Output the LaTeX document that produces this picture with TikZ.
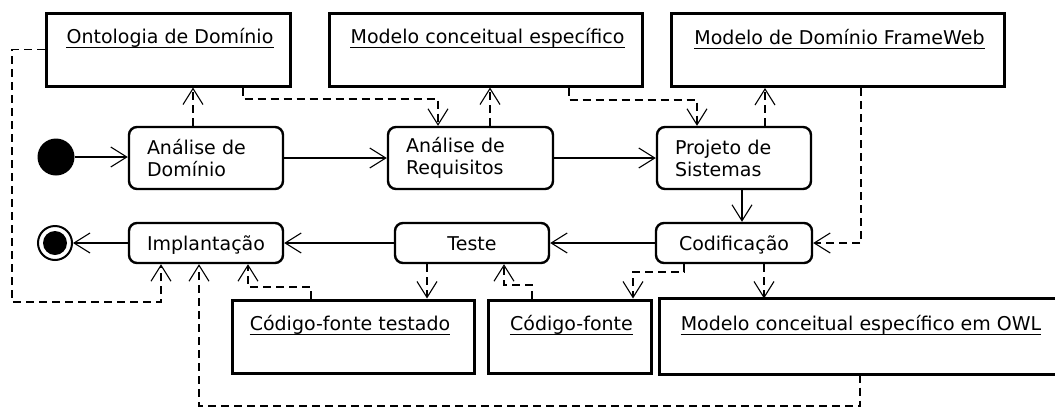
\documentclass[tikz,border=0pt]{standalone}
\usepackage{fontspec}
\setmainfont{DejaVu Sans}
\usetikzlibrary{arrows.meta}
\begin{document}
\begin{tikzpicture}[x=1pt,y=-1pt,
  font=\fontsize{19}{22}\selectfont,
  act/.style={draw, line width=2.4pt, rounded corners=8pt, inner sep=0pt, fill=white},
  act1/.style={act, text height=15pt, text depth=0pt, align=center, minimum height=40pt},
  act2/.style={act, align=left, inner xsep=18pt, minimum height=62pt},
  obj/.style={draw, line width=3pt, inner sep=0pt, minimum height=73pt},
  objline/.style={line width=3pt},
  title/.style={anchor=base, inner sep=0pt},
  uline/.style={line width=1pt},
  flow/.style={line width=1.1pt, -{Straight Barb[length=16pt,width=20pt]}},
  dep/.style={flow, dash pattern=on 8pt off 5pt},
]
\useasboundingbox (0,0) rectangle (1055,408);
\clip (0,0) rectangle (1055,408);
% object boxes
\node[obj, minimum width=244pt] (ont) at (168,49.5) {};
\node[obj, minimum width=313pt] (mce) at (485.5,49.5) {};
\node[obj, minimum width=333pt] (fw) at (837.5,50) {};
\node[obj, minimum width=242pt] (cft) at (353,336.5) {};
\node[obj, minimum width=163pt] (cf) at (569.5,336.5) {};
% the OWL box runs past the right edge of the picture
\node[obj, draw=none, minimum width=400pt] (owl) at (861,336.5) {};
\draw[objline] ([xshift=20pt]owl.north east) -- (owl.north west) -- (owl.south west) -- ([xshift=20pt]owl.south east);
% titles
\node[title] (tont) at ([xshift=2pt,yshift=-32pt]ont.north) {Ontologia de Domínio};
\node[title] (tmce) at ([xshift=2pt,yshift=-32pt]mce.north) {Modelo conceitual específico};
\node[title] (tfw) at ([xshift=2pt,yshift=-32pt]fw.north) {Modelo de Domínio FrameWeb};
\node[title] (tcft) at ([xshift=-3pt,yshift=-32pt]cft.north) {Código-fonte testado};
\node[title] (tcf) at ([xshift=2pt,yshift=-32pt]cf.north) {Código-fonte};
\node[title] (towl) at ([yshift=-32pt]owl.north) {Modelo conceitual específico em OWL};
\foreach \t in {tont,tmce,tfw,tcft,tcf,towl}
  \draw[uline] ([yshift=-4pt]\t.base west) -- ([yshift=-4pt]\t.base east);
% actions
\node[act2, minimum width=154pt, text width=118pt] (ad) at (206,158) {Análise de\\Domínio};
\node[act2, minimum width=165pt, text width=129pt] (ar) at (470.5,158) {Análise de\\Requisitos};
\node[act2, minimum width=154pt, text width=118pt] (ps) at (734,158) {Projeto de\\Sistemas};
\node[act1, minimum width=154pt] (impl) at (206,243) {Implantação};
\node[act1, minimum width=154pt] (teste) at (472,243) {Teste};
\node[act1, minimum width=156pt] (cod) at (734,243) {Codificação};
% start / end
\node[circle, fill=black, minimum size=37pt, inner sep=0pt] (ini) at (56,157) {};
\node[circle, draw, line width=2pt, minimum size=34pt, inner sep=0pt] (fin) at (55,243) {};
\fill (fin.center) circle (12pt);
% control flow
\draw[flow] (ini) -- (ini -| ad.west);
\draw[flow] (ad) -- (ar);
\draw[flow] (ar) -- (ps);
\draw[flow] (742,0 |- ps.south) -- (742,0 |- cod.north);
\draw[flow] (cod) -- (teste);
\draw[flow] (teste) -- (impl);
\draw[flow] (impl) -- (fin);
% object flows
\draw[dep] (193,0 |- ad.north) -- (193,0 |- ont.south);
\draw[dep] (243,0 |- ont.south) |- (438,99) -- (438,0 |- ar.north);
\draw[dep] (490,0 |- ar.north) -- (490,0 |- mce.south);
\draw[dep] (569,0 |- mce.south) |- (697,100) -- (697,0 |- ps.north);
\draw[dep] (765,0 |- ps.north) -- (765,0 |- fw.south);
\draw[dep] (861,0 |- fw.south) |- (cod.east);
\draw[dep] (ont.west) -| (12,302) -| (161,0 |- impl.south);
\draw[dep] (684,0 |- cod.south) |- (633,272) -- (633,0 |- cf.north);
\draw[dep] (764,0 |- cod.south) -- (764,0 |- owl.north);
\draw[dep] (427,0 |- teste.south) -- (427,0 |- cft.north);
\draw[dep] (532,0 |- cf.north) |- (504,285) -- (504,0 |- teste.south);
\draw[dep] (311,0 |- cft.north) |- (248,287) -- (248,0 |- impl.south);
\draw[dep] (860,0 |- owl.south) |- (199,406) -- (199,0 |- impl.south);
\end{tikzpicture}
\end{document}
